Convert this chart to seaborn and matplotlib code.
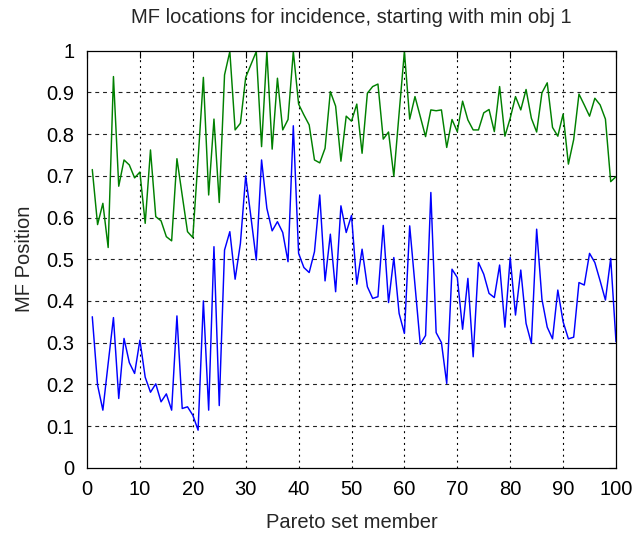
import numpy as np
import pandas as pd
import matplotlib
matplotlib.use("Agg")
import matplotlib.pyplot as plt
import seaborn as sns

members = list(range(1, 101))

green_vals = [
    0.715, 0.583, 0.634, 0.528, 0.938, 0.675, 0.738, 0.726, 0.695, 0.709,
    0.586, 0.762, 0.602, 0.592, 0.554, 0.544, 0.741, 0.653, 0.566, 0.552,
    0.740, 0.936, 0.654, 0.836, 0.636, 0.942, 0.998, 0.810, 0.826, 0.936,
    0.967, 0.998, 0.770, 0.998, 0.764, 0.934, 0.810, 0.835, 0.998, 0.872,
    0.846, 0.822, 0.738, 0.731, 0.766, 0.902, 0.867, 0.735, 0.843, 0.831,
    0.872, 0.754, 0.898, 0.914, 0.920, 0.788, 0.805, 0.699, 0.850, 0.998,
    0.836, 0.890, 0.842, 0.794, 0.858, 0.856, 0.858, 0.768, 0.835, 0.806,
    0.879, 0.834, 0.810, 0.810, 0.851, 0.859, 0.806, 0.914, 0.795, 0.838,
    0.890, 0.858, 0.907, 0.838, 0.805, 0.899, 0.923, 0.816, 0.795, 0.848,
    0.728, 0.787, 0.896, 0.870, 0.843, 0.886, 0.870, 0.836, 0.686, 0.698,
]

blue_vals = [
    0.362, 0.198, 0.138, 0.250, 0.360, 0.166, 0.310, 0.252, 0.226, 0.306,
    0.217, 0.181, 0.201, 0.158, 0.177, 0.138, 0.364, 0.142, 0.146, 0.126,
    0.090, 0.400, 0.138, 0.530, 0.149, 0.522, 0.566, 0.452, 0.538, 0.700,
    0.600, 0.498, 0.738, 0.622, 0.568, 0.590, 0.564, 0.494, 0.820, 0.514,
    0.480, 0.468, 0.518, 0.654, 0.448, 0.560, 0.422, 0.628, 0.564, 0.605,
    0.440, 0.524, 0.434, 0.406, 0.410, 0.581, 0.396, 0.504, 0.370, 0.322,
    0.580, 0.438, 0.296, 0.317, 0.660, 0.324, 0.300, 0.202, 0.476, 0.456,
    0.332, 0.454, 0.266, 0.492, 0.464, 0.418, 0.408, 0.486, 0.337, 0.504,
    0.366, 0.474, 0.346, 0.298, 0.572, 0.404, 0.337, 0.309, 0.426, 0.350,
    0.309, 0.313, 0.444, 0.438, 0.514, 0.492, 0.448, 0.402, 0.502, 0.302,
]

x_ticks = [0, 10, 20, 30, 40, 50, 60, 70, 80, 90, 100]
y_ticks = [0, 0.1, 0.2, 0.3, 0.4, 0.5, 0.6, 0.7, 0.8, 0.9, 1]
y_tick_labels = ["0", "0.1", "0.2", "0.3", "0.4", "0.5", "0.6", "0.7", "0.8", "0.9", "1"]

df = pd.DataFrame({
    "member": members * 2,
    "pos": green_vals + blue_vals,
    "series": ["MF 2"] * len(members) + ["MF 1"] * len(members),
})

sns.set_style("white")
plt.rcParams["font.family"] = ["Liberation Sans", "DejaVu Sans"]

fig = plt.figure(figsize=(6.36, 5.38), dpi=100)
ax = fig.add_axes([87 / 636, 1 - 467.7 / 538, (616 - 87) / 636, (467.7 - 50.7) / 538])

sns.lineplot(data=df, x="member", y="pos", hue="series",
             palette={"MF 2": "#008000", "MF 1": "#0000ff"},
             linewidth=1.05, legend=False, ax=ax, estimator=None, sort=False)

ax.set_xlim(0, 100)
ax.set_ylim(0, 1)
ax.set_xticks(x_ticks)
ax.set_yticks(y_ticks)
ax.set_yticklabels(y_tick_labels)

for gy in y_ticks[1:-1]:
    ax.axhline(gy, color="#222222", linewidth=0.8, linestyle=(0, (3.5, 3.5)), zorder=0)
for gx in x_ticks[1:-1]:
    ax.axvline(gx, color="black", linewidth=0.8, linestyle=(0, (1.8, 3.5)), zorder=0)

ax.tick_params(axis="both", which="both", direction="in", length=5, width=0.8,
               top=True, right=True, labelsize=14.5, pad=9, colors="black")
for sp in ax.spines.values():
    sp.set_color("black")
    sp.set_linewidth(0.9)

ax.set_title("MF locations for incidence, starting with min obj 1", fontsize=14.5, pad=20)
ax.set_xlabel("Pareto set member", fontsize=14.5, labelpad=10)
ax.set_ylabel("MF Position", fontsize=14.5, labelpad=9)

fig.savefig("out.png", dpi=100, facecolor="white")
